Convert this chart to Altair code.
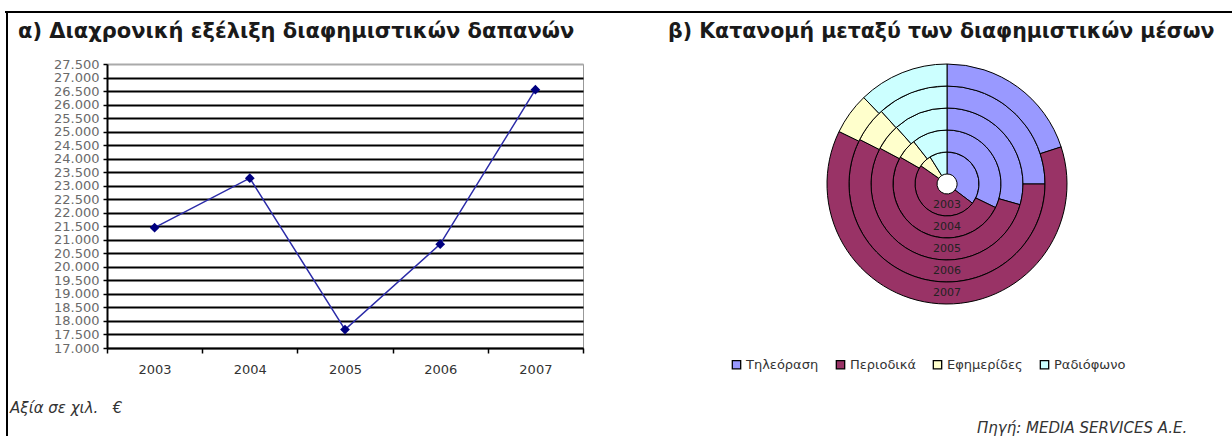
import math

import altair as alt
import pandas as pd

# ---- data -------------------------------------------------------------
years = ["2003", "2004", "2005", "2006", "2007"]
spend = [21450, 23280, 17680, 20840, 26550]          # thousand euro
y_ticks = list(range(17000, 27501, 500))

media = ["Τηλεόραση", "Περιοδικά", "Εφημερίδες", "Ραδιόφωνο"]
media_colors = ["#9999FF", "#993366", "#FFFFCC", "#CCFFFF"]
# share (%) of each medium per year, inner ring = 2003, outer ring = 2007
tv = [35.3, 32.2, 29.4, 25.0, 20.0]
periodicals = [49.4, 51.1, 53.4, 57.5, 62.2]
newspapers = [6.4, 6.1, 5.6, 5.8, 5.6]
radio = [8.9, 10.6, 11.6, 11.7, 12.2]

# ---- layout (pixels, relative to the line chart's plot origin) ---------
W, H = 476, 284
PAD = {"left": 107, "top": 64, "right": 649, "bottom": 88}
DONUT_X, DONUT_Y = 840, 120
HOLE_R, RING_W = 10, 22
FONT = "DejaVu Sans"

# ---- left panel: expenditure over time --------------------------------
line_df = pd.DataFrame({"year": years, "spend": spend})

x_enc = alt.X(
    "year:N",
    title=None,
    scale=alt.Scale(type="band", paddingInner=0, paddingOuter=0),
    axis=alt.Axis(
        labelAngle=0, tickBand="extent", grid=False,
        domainColor="black", domainWidth=1.5,
        tickColor="black", tickSize=5, tickWidth=1.5,
        labelFontSize=13, labelColor="#333333", labelPadding=10, labelFont=FONT,
    ),
)
y_enc = alt.Y(
    "spend:Q",
    title=None,
    scale=alt.Scale(domain=[17000, 27500], nice=False, zero=False),
    axis=alt.Axis(
        values=y_ticks,
        labelExpr="replace(format(datum.value, ','), ',', '.')",
        labelOverlap=False, labelFlush=False,
        labelFontSize=13, labelColor="#6a6a6a", labelPadding=4, labelFont=FONT,
        grid=True,
        gridColor=alt.condition("datum.value === 27500", alt.value("#aaaaaa"), alt.value("black")),
        gridWidth=1.8,
        domainColor="black", domainWidth=2,
        tickColor="black", tickSize=4, tickWidth=1.5,
    ),
)

line = alt.Chart(line_df).mark_line(color="#2b2ba8", strokeWidth=1.5).encode(x=x_enc, y=y_enc)
points = alt.Chart(line_df).mark_point(
    shape="diamond", filled=True, size=95, color="#000080", opacity=1
).encode(x=x_enc, y=y_enc)

# ---- right panel: share of media, one ring per year -------------------
color_enc = alt.Color(
    "medium:N",
    scale=alt.Scale(domain=media, range=media_colors),
    sort=media,
    legend=alt.Legend(
        orient="none", legendX=623, legendY=294, direction="horizontal",
        title=None, symbolType="square", symbolSize=70,
        symbolStrokeColor="black", symbolStrokeWidth=1.3,
        labelFontSize=13, labelColor="#333333", labelFont=FONT,
        labelOffset=3, columnPadding=14, symbolOffset=0,
    ),
)

rings = []
for i, yr in enumerate(years):
    ring_df = pd.DataFrame({
        "medium": media,
        "k": [0, 1, 2, 3],
        "share": [tv[i], periodicals[i], newspapers[i], radio[i]],
    })
    inner = HOLE_R + i * RING_W
    outer = inner + RING_W
    arc = alt.Chart(ring_df).mark_arc(
        radius=outer, radius2=inner, stroke="black", strokeWidth=1
    ).encode(
        theta=alt.Theta("share:Q", stack=True, scale=alt.Scale(domain=[0, 100])),
        order=alt.Order("k:Q"),
        color=color_enc,
        x=alt.value(DONUT_X),
        y=alt.value(DONUT_Y),
    )
    label = alt.Chart(pd.DataFrame({"t": [yr]})).mark_text(
        theta=math.pi, radius=(inner + outer) / 2, fontSize=11, color="#222222", font=FONT
    ).encode(text="t:N", x=alt.value(DONUT_X), y=alt.value(DONUT_Y))
    rings += [arc, label]


def text_layer(txt, x, y, **kw):
    return alt.Chart(pd.DataFrame({"t": [txt]})).mark_text(font=FONT, **kw).encode(
        text="t:N", x=alt.value(x), y=alt.value(y)
    )


titles = [
    text_layer("α) Διαχρονική εξέλιξη διαφημιστικών δαπανών", -89, -32,
               align="left", baseline="middle", fontSize=21, fontWeight="bold", color="#1a1a1a"),
    text_layer("β) Κατανομή μεταξύ των διαφημιστικών μέσων", 561, -32,
               align="left", baseline="middle", fontSize=20.5, fontWeight="bold", color="#1a1a1a"),
    text_layer("Αξία σε χιλ.\u00a0\u00a0 €", -97, 344,
               align="left", baseline="middle", fontSize=15, fontStyle="italic", color="#333333"),
    text_layer("Πηγή: MEDIA SERVICES A.E.", 870, 369,
               align="left", baseline="alphabetic", fontSize=15, fontStyle="italic", color="#333333"),
]

# frame around the figure
frame_df = pd.DataFrame({"a": [0]})
top_rule = alt.Chart(frame_df).mark_rule(color="black", strokeWidth=2).encode(
    x=alt.value(-102), x2=alt.value(1125), y=alt.value(-52)
)
left_rule = alt.Chart(frame_df).mark_rule(color="black", strokeWidth=2).encode(
    x=alt.value(-100), y=alt.value(-52), y2=alt.value(372)
)

chart = alt.layer(
    line, points, *rings, *titles, top_rule, left_rule
).resolve_scale(theta="independent").properties(
    width=W, height=H,
    padding=PAD,
    autosize=alt.AutoSizeParams(type="none"),
    background="white",
).configure_view(stroke="#999999", strokeWidth=1)

chart.save("out.html", embed_options={"renderer": "svg", "actions": False})
